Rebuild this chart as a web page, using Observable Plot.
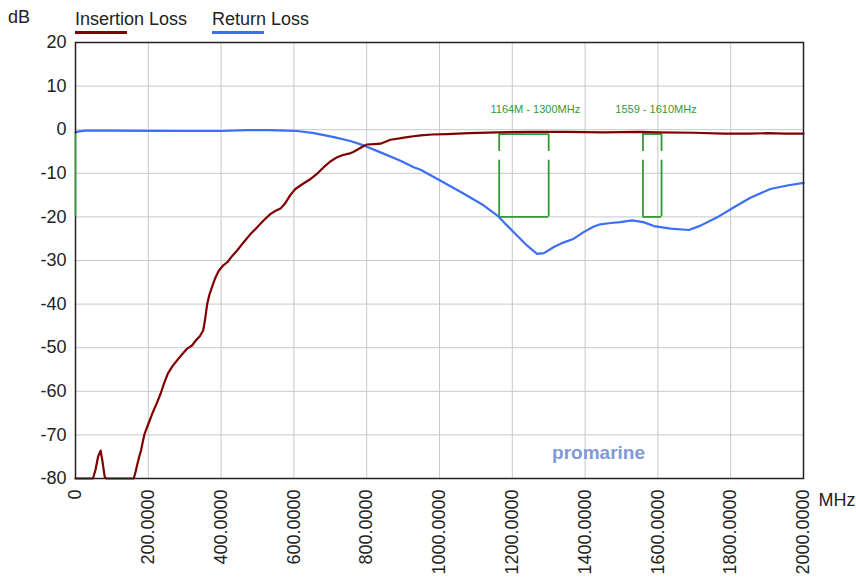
<!DOCTYPE html>
<html>
<head>
<meta charset="utf-8">
<script src="https://cdn.jsdelivr.net/npm/d3@7"></script>
<script src="https://cdn.jsdelivr.net/npm/@observablehq/plot@0.6"></script>
<style>
  html, body { margin: 0; padding: 0; background: #fff; }
  #wrap { position: relative; width: 856px; height: 578px; font-family: "Liberation Sans", Arial, sans-serif; color: #222; }
  .hd { position: absolute; font-size: 18px; line-height: 18px; white-space: nowrap; }
  .sw { position: absolute; height: 3px; }
</style>
</head>
<body>
<div id="wrap">
  <div class="hd" style="left:8px; top:8px;">dB</div>
  <div class="hd" style="left:75px; top:10px;">Insertion Loss</div>
  <div class="sw" style="left:75px; top:31px; width:52px; background:#800000;"></div>
  <div class="hd" style="left:212px; top:10px;">Return Loss</div>
  <div class="sw" style="left:212px; top:31px; width:52px; background:#3d6ff5;"></div>
</div>
<script>
// ---- data ----
const ilFreq = [0,48,55,62,69,74,80,84,160,165,169,175,180,185,190,200,211,222,234,244,254,266,279,293,307,320,330,342,351,356,362,368,375,384,394,405,417,430,444,462,480,499,518,536,550,563,575,590,604,625,646,665,682,700,719,735,751,763,774,788,801,820,838,850,865,890,911,929,948,980,1021,1080,1159,1250,1350,1450,1550,1600,1700,1780,1850,1900,1950,2000];
const ilDb   = [-80,-80,-78,-75,-73.6,-76,-79.5,-80,-80,-78.5,-77,-75,-73.6,-71.5,-69.7,-67.5,-65.1,-63,-60.5,-58,-55.9,-54.3,-52.9,-51.5,-50.2,-49.5,-48.4,-47.3,-46,-43.5,-39.9,-37.8,-36.1,-34,-32.3,-31.2,-30.4,-29,-27.7,-25.8,-24,-22.4,-20.7,-19.3,-18.6,-18.1,-17,-15,-13.6,-12.4,-11.3,-10,-8.6,-7.3,-6.3,-5.8,-5.5,-5.1,-4.6,-3.9,-3.4,-3.3,-3.2,-2.8,-2.3,-2.0,-1.7,-1.5,-1.3,-1.1,-1.0,-0.8,-0.6,-0.5,-0.5,-0.6,-0.5,-0.6,-0.7,-0.9,-0.9,-0.8,-0.9,-0.9];

const rlFreq = [0,10,27,100,200,300,400,470,530,580,609,655,710,755,792,838,893,929,948,1003,1067,1122,1159,1180,1204,1241,1268,1287,1314,1340,1369,1396,1424,1442,1470,1497,1529,1560,1589,1635,1685,1717,1763,1809,1854,1909,1955,2000];
const rlDb   = [-0.6,-0.4,-0.2,-0.2,-0.25,-0.3,-0.3,-0.1,-0.1,-0.2,-0.3,-0.8,-1.7,-2.6,-3.6,-5.2,-7.1,-8.6,-9.2,-11.7,-14.7,-17.4,-19.7,-21.5,-23.5,-26.6,-28.5,-28.3,-26.9,-25.9,-25.0,-23.5,-22.2,-21.7,-21.4,-21.2,-20.8,-21.2,-22.1,-22.7,-23.0,-22.0,-20.1,-17.8,-15.6,-13.6,-12.8,-12.2];

const xTicks = [0,200,400,600,800,1000,1200,1400,1600,1800,2000];
const xTickLabels = ["0","200.0000","400.0000","600.0000","800.0000","1000.0000","1200.0000","1400.0000","1600.0000","1800.0000","2000.0000"];
const yTicks = [20,10,0,-10,-20,-30,-40,-50,-60,-70,-80];
const yTickLabels = ["20","10","0","-10","-20","-30","-40","-50","-60","-70","-80"];

const bandStart = [1164, 1559];
const bandEnd   = [1300, 1610];
const bandTop = -1, bandBottom = -20, bandGapTop = -5, bandGapBottom = -7;
const bandLabels = ["1164M - 1300MHz", "1559 - 1610MHz"];
const bandLabelFreq = [1140, 1483];
const bandLabelDb = [3.9, 3.9];

const watermarkText = ["promarine"];
const watermarkFreq = [1437];
const watermarkDb = [-74.1];

// ---- build tables ----
const il = ilFreq.map((f, i) => ({f, db: ilDb[i]}));
const rl = rlFreq.map((f, i) => ({f, db: rlDb[i]}));
const hSeg = [];
const vSeg = [];
bandStart.forEach((s, i) => {
  const e = bandEnd[i];
  hSeg.push({x1: s, x2: e, y: bandTop}, {x1: s, x2: e, y: bandBottom});
  for (const x of [s, e]) {
    vSeg.push({x, y1: bandTop, y2: bandGapTop}, {x, y1: bandGapBottom, y2: bandBottom});
  }
});
const axisSeg = [{x: 0, y1: bandTop, y2: bandBottom}];
const labels = bandLabels.map((t, i) => ({t, f: bandLabelFreq[i], db: bandLabelDb[i]}));
const wm = watermarkText.map((t, i) => ({t, f: watermarkFreq[i], db: watermarkDb[i]}));

const green = "#339933";

const chart = Plot.plot({
  width: 856,
  height: 578,
  marginLeft: 75,
  marginRight: 53,
  marginTop: 42,
  marginBottom: 100,
  style: {fontFamily: "'Liberation Sans', Arial, sans-serif", fontSize: "18px", color: "#222", background: "transparent", overflow: "visible"},
  x: {domain: [0, 2000]},
  y: {domain: [-80, 20]},
  marks: [
    Plot.gridX(xTicks, {stroke: "#c8c8c8", strokeOpacity: 1, strokeWidth: 1}),
    Plot.gridY(yTicks, {stroke: "#c8c8c8", strokeOpacity: 1, strokeWidth: 1}),
    Plot.text(wm, {x: "f", y: "db", text: "t", fill: "#7f99d6", fontWeight: "bold", fontSize: 19, lineAnchor: "middle"}),
    Plot.ruleY(hSeg, {x1: "x1", x2: "x2", y: "y", stroke: green, strokeWidth: 1.8}),
    Plot.ruleX(vSeg, {x: "x", y1: "y1", y2: "y2", stroke: green, strokeWidth: 1.8}),
    Plot.line(rl, {x: "f", y: "db", stroke: "#3d6ff5", strokeWidth: 2.2}),
    Plot.line(il, {x: "f", y: "db", stroke: "#800000", strokeWidth: 2.2}),
    Plot.frame({stroke: "#222", strokeWidth: 1.5}),
    Plot.ruleX(axisSeg, {x: "x", y1: "y1", y2: "y2", stroke: green, strokeWidth: 1.5}),
    Plot.text(labels, {x: "f", y: "db", text: "t", fill: green, textAnchor: "start", lineAnchor: "bottom", fontSize: 11, fontFamily: "'Liberation Sans', Arial, sans-serif"}),
    Plot.axisX(xTicks, {tickFormat: d => xTickLabels[xTicks.indexOf(d)], tickRotate: -90, tickSize: 0, tickPadding: 11, label: null, fontSize: 18}),
    Plot.axisY(yTicks, {tickFormat: d => yTickLabels[yTicks.indexOf(d)], tickSize: 0, tickPadding: 9, label: null, fontSize: 18}),
    Plot.text(["MHz"], {frameAnchor: "bottom-right", dx: 15, dy: 27, textAnchor: "start", lineAnchor: "bottom", fontSize: 18})
  ]
});
chart.style.position = "absolute";
chart.style.left = "0";
chart.style.top = "0";
document.getElementById("wrap").prepend(chart);
</script>
</body>
</html>
